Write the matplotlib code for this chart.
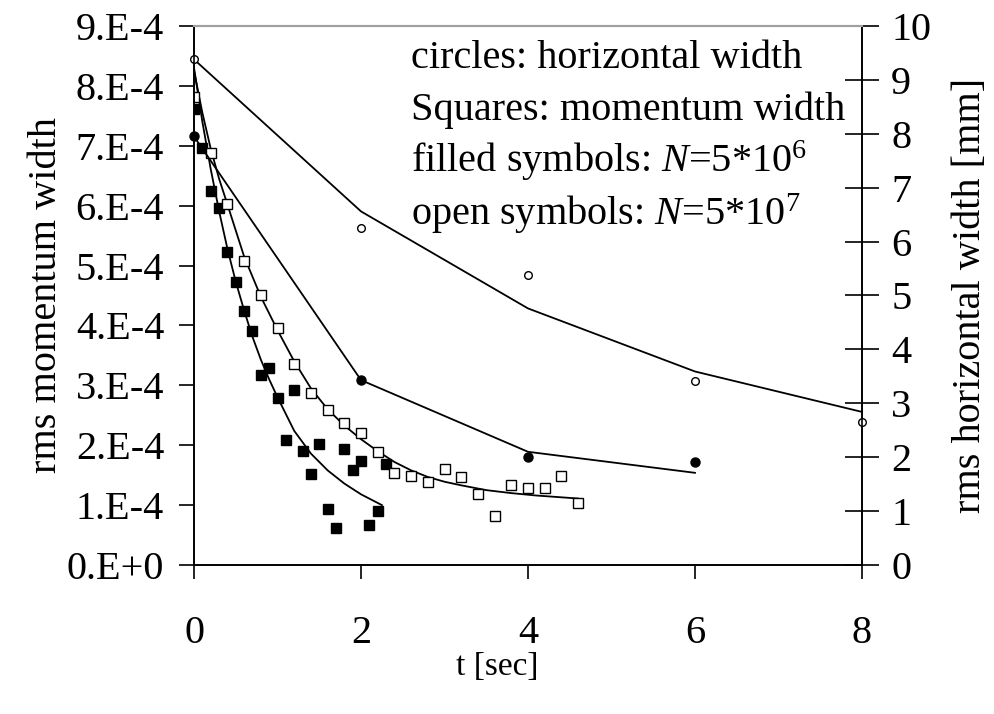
import matplotlib.pyplot as plt

# Fuente tipo Times
plt.rcParams['font.family'] = 'Liberation Serif'
plt.rcParams['mathtext.fontset'] = 'custom'
plt.rcParams['mathtext.rm'] = 'Liberation Serif'
plt.rcParams['mathtext.it'] = 'Liberation Serif:italic'

# Datos: anchura de momento (eje izquierdo, en unidades de 1e-4)
t_sq_filled = [0, 0.1, 0.2, 0.3, 0.4, 0.5, 0.6, 0.7, 0.8, 0.9, 1.0, 1.1,
               1.2, 1.3, 1.4, 1.5, 1.6, 1.7, 1.8, 1.9, 2.0, 2.1, 2.2, 2.3]
p_sq_filled = [7.62, 6.97, 6.25, 5.96, 5.22, 4.72, 4.24, 3.91, 3.17, 3.29, 2.79, 2.08,
               2.93, 1.91, 1.52, 2.02, 0.93, 0.62, 1.93, 1.59, 1.73, 0.67, 0.90, 1.68]

t_sq_open = [0, 0.2, 0.4, 0.6, 0.8, 1.0, 1.2, 1.4, 1.6, 1.8, 2.0, 2.2,
             2.4, 2.6, 2.8, 3.0, 3.2, 3.4, 3.6, 3.8, 4.0, 4.2, 4.4, 4.6]
p_sq_open = [7.82, 6.88, 6.02, 5.08, 4.51, 3.96, 3.36, 2.87, 2.59, 2.37, 2.21, 1.89,
             1.53, 1.48, 1.38, 1.61, 1.47, 1.19, 0.82, 1.33, 1.29, 1.28, 1.49, 1.03]

# Curvas de ajuste
t_fit_filled = [0, 0.1, 0.2, 0.3, 0.4, 0.5, 0.6, 0.7, 0.8, 0.9, 1.0,
                1.2, 1.4, 1.6, 1.8, 2.0, 2.25]
p_fit_filled = [8.30, 7.40, 6.61, 5.91, 5.28, 4.73, 4.25, 3.81, 3.43, 3.10, 2.80,
                2.24, 1.86, 1.58, 1.36, 1.18, 1.00]

t_fit_open = [0, 0.1, 0.2, 0.3, 0.4, 0.6, 0.8, 1.0, 1.2, 1.4, 1.6, 1.8,
              2.0, 2.2, 2.4, 2.6, 2.8, 3.0, 3.2, 3.5, 3.8, 4.1, 4.4, 4.6]
p_fit_open = [8.25, 7.55, 6.95, 6.45, 6.02, 5.15, 4.48, 3.92, 3.40, 2.95, 2.60, 2.33,
              2.10, 1.90, 1.72, 1.58, 1.47, 1.39, 1.33, 1.25, 1.20, 1.16, 1.13, 1.11]

# Anchura horizontal (eje derecho, mm)
t_circ_open = [0, 2, 4, 6, 8]
w_circ_open = [9.38, 6.25, 5.38, 3.41, 2.65]
w_fit_circ_open = [9.38, 6.56, 4.76, 3.59, 2.84]

t_circ_filled = [0, 2, 4, 6]
w_circ_filled = [7.95, 3.43, 2.01, 1.92]
w_fit_circ_filled = [7.95, 3.43, 2.10, 1.71]

yticks_left = [0, 1, 2, 3, 4, 5, 6, 7, 8, 9]
ylabels_left = ['0.E+0', '1.E-4', '2.E-4', '3.E-4', '4.E-4',
                '5.E-4', '6.E-4', '7.E-4', '8.E-4', '9.E-4']
yticks_right = [0, 1, 2, 3, 4, 5, 6, 7, 8, 9, 10]
xticks = [0, 2, 4, 6, 8]

fs = 29

fig = plt.figure(figsize=(9.94, 7.14), dpi=100)
ax = fig.add_axes([0.1952, 0.2087, 0.672, 0.7549])
ax2 = ax.twinx()

# Eje izquierdo: cuadrados
ax.plot(t_fit_filled, p_fit_filled, '-', color='k', linewidth=1.3)
ax.plot(t_fit_open, p_fit_open, '-', color='k', linewidth=1.3)
ax.plot(t_sq_filled, p_sq_filled, 's', color='k', markersize=6.5, linestyle='none')
ax.plot(t_sq_open, p_sq_open, 's', markerfacecolor='white', markeredgecolor='k',
        markeredgewidth=1.0, markersize=6.5, linestyle='none')

# Eje derecho: círculos
ax2.plot(t_circ_open, w_fit_circ_open, '-', color='k', linewidth=1.3, clip_on=False)
ax2.plot(t_circ_filled, w_fit_circ_filled, '-', color='k', linewidth=1.3)
ax2.plot(t_circ_open, w_circ_open, 'o', markerfacecolor='white', markeredgecolor='k',
         markeredgewidth=1.0, markersize=5.5, linestyle='none', clip_on=False)
ax2.plot(t_circ_filled, w_circ_filled, 'o', color='k', markersize=6.5,
         linestyle='none', clip_on=False)

ax.set_xlim(0, 8)
ax.set_ylim(0, 9)
ax2.set_ylim(0, 10)

ax.set_xticks(xticks)
ax.set_yticks(yticks_left)
ax.set_yticklabels(ylabels_left)
ax2.set_yticks(yticks_right)

ax.tick_params(axis='y', direction='out', length=11, width=1.2, labelsize=fs, pad=10.5)
ax.tick_params(axis='x', direction='out', length=10, width=1.2, labelsize=fs, pad=26)
ax2.tick_params(axis='y', direction='inout', length=24, width=1.2, labelsize=fs, pad=9)

for a in (ax, ax2):
    a.spines['top'].set_color('#a0a0a0')
    a.spines['top'].set_linewidth(1.5)
    a.spines['left'].set_linewidth(1.2)
    a.spines['right'].set_linewidth(1.2)
    a.spines['bottom'].set_linewidth(1.2)

ax.set_ylabel('rms momentum width', fontsize=fs, labelpad=1)
ax2.set_ylabel('rms horizontal width [mm]', fontsize=fs, labelpad=15)
ax.set_xlabel('t [sec]', fontsize=24)
ax.xaxis.set_label_coords(0.4536, -0.16)

# Texto explicativo
notas = ['circles: horizontal width',
         'Squares: momentum width',
         r'filled symbols: $N$=5*10$^6$',
         r'open symbols: $N$=5*10$^7$']
y_notas = [0.922, 0.826, 0.729, 0.631]
for txt, yy in zip(notas, y_notas):
    ax.text(0.325, yy, txt, transform=ax.transAxes, fontsize=fs,
            va='baseline', ha='left')

plt.savefig('out.png', dpi=100)
